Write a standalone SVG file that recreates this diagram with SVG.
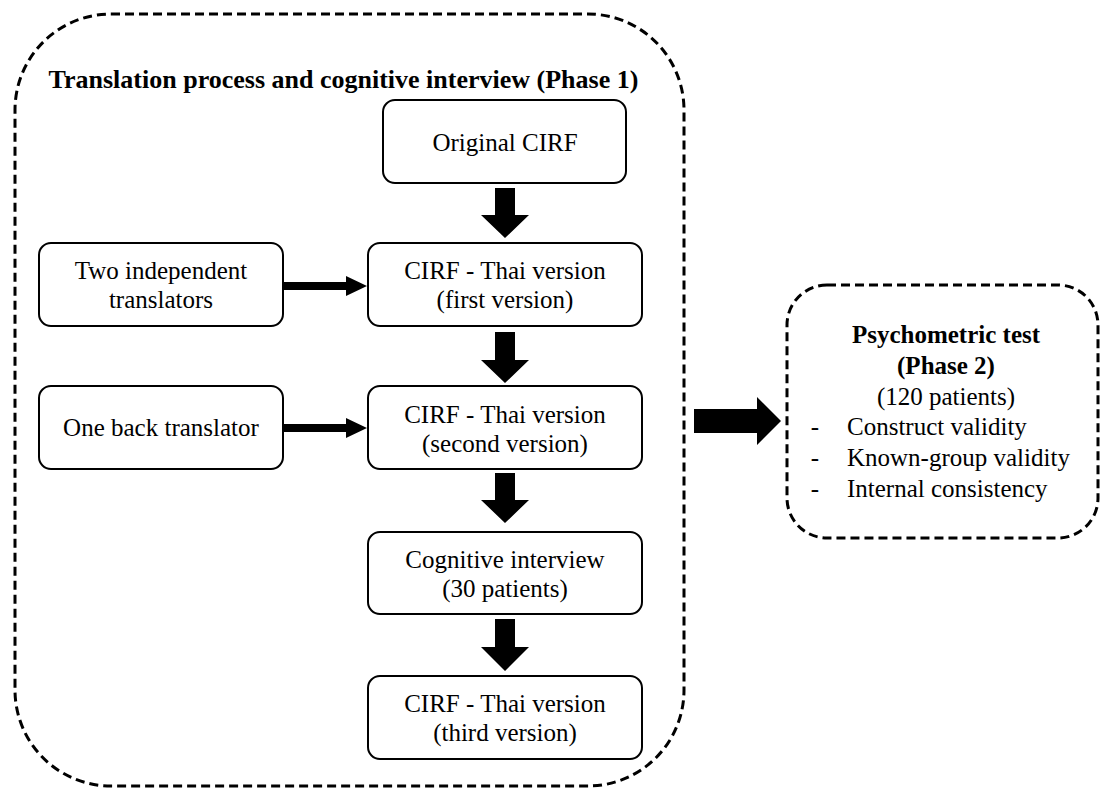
<svg xmlns="http://www.w3.org/2000/svg" width="1101" height="789" viewBox="0 0 1101 789">
<style>
.box{fill:#fff;stroke:#000;stroke-width:2}
.dash{fill:none;stroke:#000;stroke-width:3;stroke-dasharray:9 5}
.t{font-family:"Liberation Serif","Times New Roman",serif;font-size:25px;fill:#000;text-anchor:middle}
.b{font-weight:bold}
.s{text-anchor:start}
.arr{fill:#000}
</style>
<rect width="1101" height="789" fill="#fff"/>
<g id="phase1">
<rect class="dash" x="15" y="14" width="669" height="772" rx="96" ry="96"/>
<text class="t b" x="343.5" y="88" font-size="26" style="font-size:26px">Translation process and cognitive interview (Phase 1)</text>
</g>
<g id="original">
<rect class="box" x="383" y="100" width="243" height="83" rx="12"/>
<text class="t" x="505" y="151">Original CIRF</text>
</g>
<g id="translators">
<rect class="box" x="39" y="243" width="244" height="83" rx="12"/>
<text class="t" x="161" y="279">Two independent</text>
<text class="t" x="161" y="308">translators</text>
</g>
<g id="first">
<rect class="box" x="368" y="243" width="274" height="83" rx="12"/>
<text class="t" x="505" y="279">CIRF - Thai version</text>
<text class="t" x="505" y="308">(first version)</text>
</g>
<g id="back">
<rect class="box" x="39" y="386" width="244" height="83" rx="12"/>
<text class="t" x="161" y="436">One back translator</text>
</g>
<g id="second">
<rect class="box" x="368" y="386" width="274" height="83" rx="12"/>
<text class="t" x="505" y="423">CIRF - Thai version</text>
<text class="t" x="505" y="452">(second version)</text>
</g>
<g id="cognitive">
<rect class="box" x="368" y="532" width="274" height="82" rx="12"/>
<text class="t" x="505" y="568">Cognitive interview</text>
<text class="t" x="505" y="597">(30 patients)</text>
</g>
<g id="third">
<rect class="box" x="368" y="676" width="274" height="83" rx="12"/>
<text class="t" x="505" y="712">CIRF - Thai version</text>
<text class="t" x="505" y="741">(third version)</text>
</g>
<g id="phase2">
<rect class="dash" x="787" y="285" width="311" height="253" rx="40" ry="40"/>
<text class="t b" x="946" y="343">Psychometric test</text>
<text class="t b" x="946" y="374">(Phase 2)</text>
<text class="t" x="946" y="405">(120 patients)</text>
<text class="t" x="815" y="435">-</text>
<text class="t s" x="847" y="435">Construct validity</text>
<text class="t" x="815" y="466">-</text>
<text class="t s" x="847" y="466">Known-group validity</text>
<text class="t" x="815" y="497">-</text>
<text class="t s" x="847" y="497">Internal consistency</text>
</g>
<g id="connectors" class="arr">
<polygon points="495,188 515,188 515,215 529,215 505,238 481,215 495,215"/>
<polygon points="495,332 515,332 515,360 529,360 505,383 481,360 495,360"/>
<polygon points="495,473 515,473 515,500 529,500 505,523 481,500 495,500"/>
<polygon points="495,619 515,619 515,647 529,647 505,671 481,647 495,647"/>
<polygon points="283,282 346,282 346,276 367,286 346,296 346,290 283,290"/>
<polygon points="283,424 346,424 346,418 367,428 346,438 346,432 283,432"/>
<polygon points="694,409 757,409 757,397 781,421 757,445 757,433 694,433"/>
</g>
</svg>
